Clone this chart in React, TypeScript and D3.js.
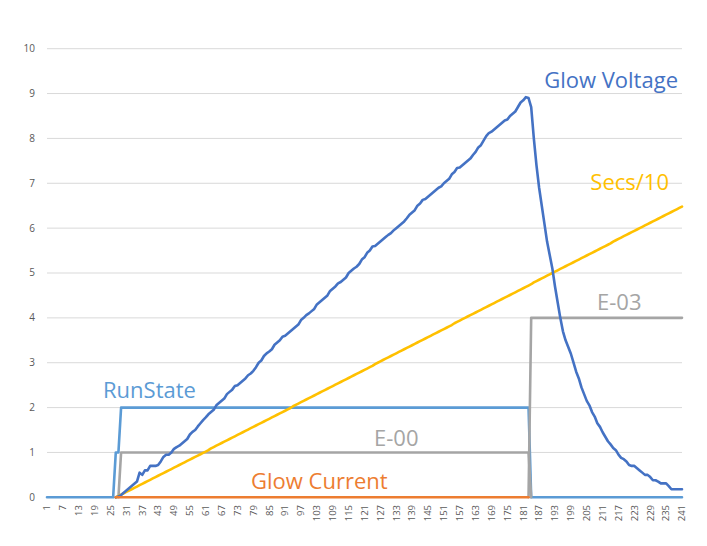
import * as d3 from "d3";

const _ = null;

// sample index 1..241
const categories = d3.range(1, 242);
const yTicks = [0, 1, 2, 3, 4, 5, 6, 7, 8, 9, 10];

const glowVoltage = [
  _, _, _, _, _, _, _, _, _, _,
  _, _, _, _, _, _, _, _, _, _,
  _, _, _, _, _, _, 0, 0.02, 0.05, 0.1,
  0.15, 0.2, 0.25, 0.3, 0.35, 0.55, 0.5, 0.6, 0.6, 0.7,
  0.7, 0.7, 0.72, 0.8, 0.9, 0.95, 0.95, 1.0, 1.08, 1.12,
  1.15, 1.2, 1.25, 1.3, 1.4, 1.46, 1.5, 1.58, 1.65, 1.72,
  1.78, 1.85, 1.9, 1.95, 2.05, 2.1, 2.15, 2.2, 2.3, 2.35,
  2.4, 2.48, 2.5, 2.55, 2.6, 2.65, 2.72, 2.76, 2.82, 2.9,
  3.0, 3.05, 3.15, 3.21, 3.25, 3.3, 3.4, 3.45, 3.5, 3.58,
  3.6, 3.65, 3.7, 3.75, 3.8, 3.85, 3.95, 4.0, 4.06, 4.1,
  4.15, 4.2, 4.3, 4.35, 4.4, 4.45, 4.5, 4.6, 4.65, 4.7,
  4.77, 4.8, 4.85, 4.9, 5.0, 5.05, 5.1, 5.14, 5.2, 5.3,
  5.35, 5.45, 5.5, 5.59, 5.6, 5.65, 5.7, 5.75, 5.8, 5.85,
  5.89, 5.95, 6.0, 6.05, 6.1, 6.15, 6.22, 6.3, 6.35, 6.4,
  6.5, 6.55, 6.63, 6.65, 6.7, 6.75, 6.8, 6.85, 6.9, 6.93,
  7.0, 7.05, 7.1, 7.2, 7.25, 7.34, 7.35, 7.4, 7.45, 7.5,
  7.55, 7.63, 7.7, 7.8, 7.85, 7.95, 8.05, 8.12, 8.15, 8.2,
  8.25, 8.3, 8.35, 8.4, 8.42, 8.5, 8.55, 8.6, 8.7, 8.8,
  8.85, 8.92, 8.9, 8.7, 8.0, 7.4, 6.9, 6.5, 6.1, 5.7,
  5.4, 5.1, 4.7, 4.35, 4.0, 3.7, 3.5, 3.35, 3.2, 3.0,
  2.8, 2.65, 2.45, 2.3, 2.15, 2.05, 1.9, 1.8, 1.65, 1.57,
  1.45, 1.35, 1.25, 1.18, 1.1, 1.05, 0.95, 0.88, 0.85, 0.8,
  0.72, 0.7, 0.7, 0.65, 0.6, 0.55, 0.5, 0.5, 0.45, 0.38,
  0.38, 0.35, 0.31, 0.31, 0.31, 0.25, 0.18, 0.18, 0.18, 0.18,
  0.18,
];

const glowCurrent = [
  _, _, _, _, _, _, _, _, _, _,
  _, _, _, _, _, _, _, _, _, _,
  _, _, _, _, _, _, 0, 0, 0, 0,
  0, 0, 0, 0, 0, 0, 0, 0, 0, 0,
  0, 0, 0, 0, 0, 0, 0, 0, 0, 0,
  0, 0, 0, 0, 0, 0, 0, 0, 0, 0,
  0, 0, 0, 0, 0, 0, 0, 0, 0, 0,
  0, 0, 0, 0, 0, 0, 0, 0, 0, 0,
  0, 0, 0, 0, 0, 0, 0, 0, 0, 0,
  0, 0, 0, 0, 0, 0, 0, 0, 0, 0,
  0, 0, 0, 0, 0, 0, 0, 0, 0, 0,
  0, 0, 0, 0, 0, 0, 0, 0, 0, 0,
  0, 0, 0, 0, 0, 0, 0, 0, 0, 0,
  0, 0, 0, 0, 0, 0, 0, 0, 0, 0,
  0, 0, 0, 0, 0, 0, 0, 0, 0, 0,
  0, 0, 0, 0, 0, 0, 0, 0, 0, 0,
  0, 0, 0, 0, 0, 0, 0, 0, 0, 0,
  0, 0, 0, 0, 0, 0, 0, 0, 0, 0,
  0, 0, 0, _, _, _, _, _, _, _,
  _, _, _, _, _, _, _, _, _, _,
  _, _, _, _, _, _, _, _, _, _,
  _, _, _, _, _, _, _, _, _, _,
  _, _, _, _, _, _, _, _, _, _,
  _, _, _, _, _, _, _, _, _, _,
  _,
];

const runState = [
  0, 0, 0, 0, 0, 0, 0, 0, 0, 0,
  0, 0, 0, 0, 0, 0, 0, 0, 0, 0,
  0, 0, 0, 0, 0, 0, 1, 1, 2, 2,
  2, 2, 2, 2, 2, 2, 2, 2, 2, 2,
  2, 2, 2, 2, 2, 2, 2, 2, 2, 2,
  2, 2, 2, 2, 2, 2, 2, 2, 2, 2,
  2, 2, 2, 2, 2, 2, 2, 2, 2, 2,
  2, 2, 2, 2, 2, 2, 2, 2, 2, 2,
  2, 2, 2, 2, 2, 2, 2, 2, 2, 2,
  2, 2, 2, 2, 2, 2, 2, 2, 2, 2,
  2, 2, 2, 2, 2, 2, 2, 2, 2, 2,
  2, 2, 2, 2, 2, 2, 2, 2, 2, 2,
  2, 2, 2, 2, 2, 2, 2, 2, 2, 2,
  2, 2, 2, 2, 2, 2, 2, 2, 2, 2,
  2, 2, 2, 2, 2, 2, 2, 2, 2, 2,
  2, 2, 2, 2, 2, 2, 2, 2, 2, 2,
  2, 2, 2, 2, 2, 2, 2, 2, 2, 2,
  2, 2, 2, 2, 2, 2, 2, 2, 2, 2,
  2, 2, 2, 0, 0, 0, 0, 0, 0, 0,
  0, 0, 0, 0, 0, 0, 0, 0, 0, 0,
  0, 0, 0, 0, 0, 0, 0, 0, 0, 0,
  0, 0, 0, 0, 0, 0, 0, 0, 0, 0,
  0, 0, 0, 0, 0, 0, 0, 0, 0, 0,
  0, 0, 0, 0, 0, 0, 0, 0, 0, 0,
  0,
];

const secsTenths = [
  _, _, _, _, _, _, _, _, _, _,
  _, _, _, _, _, _, _, _, _, _,
  _, _, _, _, _, _, 0, 0.03, 0.06, 0.09,
  0.12, 0.15, 0.18, 0.21, 0.24, 0.27, 0.3, 0.33, 0.36, 0.39,
  0.42, 0.45, 0.48, 0.51, 0.54, 0.57, 0.6, 0.63, 0.66, 0.69,
  0.72, 0.75, 0.78, 0.81, 0.84, 0.87, 0.9, 0.93, 0.96, 0.99,
  1.02, 1.05, 1.09, 1.12, 1.15, 1.18, 1.21, 1.24, 1.27, 1.3,
  1.33, 1.36, 1.39, 1.42, 1.45, 1.48, 1.51, 1.54, 1.57, 1.6,
  1.63, 1.66, 1.69, 1.72, 1.75, 1.78, 1.81, 1.84, 1.87, 1.9,
  1.93, 1.96, 1.99, 2.03, 2.06, 2.09, 2.12, 2.15, 2.18, 2.21,
  2.24, 2.27, 2.3, 2.33, 2.36, 2.39, 2.42, 2.45, 2.48, 2.51,
  2.54, 2.57, 2.6, 2.63, 2.66, 2.69, 2.72, 2.75, 2.78, 2.81,
  2.84, 2.87, 2.9, 2.93, 2.97, 3.0, 3.03, 3.06, 3.09, 3.12,
  3.15, 3.18, 3.21, 3.24, 3.27, 3.3, 3.33, 3.36, 3.39, 3.42,
  3.45, 3.48, 3.51, 3.54, 3.57, 3.6, 3.63, 3.66, 3.69, 3.72,
  3.75, 3.78, 3.81, 3.84, 3.88, 3.91, 3.94, 3.97, 4.0, 4.03,
  4.06, 4.09, 4.12, 4.15, 4.18, 4.21, 4.24, 4.27, 4.3, 4.33,
  4.36, 4.39, 4.42, 4.45, 4.48, 4.51, 4.54, 4.57, 4.6, 4.63,
  4.66, 4.69, 4.72, 4.75, 4.79, 4.82, 4.85, 4.88, 4.91, 4.94,
  4.97, 5.0, 5.03, 5.06, 5.09, 5.12, 5.15, 5.18, 5.21, 5.24,
  5.27, 5.3, 5.33, 5.36, 5.39, 5.42, 5.45, 5.48, 5.51, 5.54,
  5.57, 5.6, 5.63, 5.66, 5.7, 5.73, 5.76, 5.79, 5.82, 5.85,
  5.88, 5.91, 5.94, 5.97, 6.0, 6.03, 6.06, 6.09, 6.12, 6.15,
  6.18, 6.21, 6.24, 6.27, 6.3, 6.33, 6.36, 6.39, 6.42, 6.45,
  6.48,
];

const e00 = [
  _, _, _, _, _, _, _, _, _, _,
  _, _, _, _, _, _, _, _, _, _,
  _, _, _, _, _, _, _, 0, 1, 1,
  1, 1, 1, 1, 1, 1, 1, 1, 1, 1,
  1, 1, 1, 1, 1, 1, 1, 1, 1, 1,
  1, 1, 1, 1, 1, 1, 1, 1, 1, 1,
  1, 1, 1, 1, 1, 1, 1, 1, 1, 1,
  1, 1, 1, 1, 1, 1, 1, 1, 1, 1,
  1, 1, 1, 1, 1, 1, 1, 1, 1, 1,
  1, 1, 1, 1, 1, 1, 1, 1, 1, 1,
  1, 1, 1, 1, 1, 1, 1, 1, 1, 1,
  1, 1, 1, 1, 1, 1, 1, 1, 1, 1,
  1, 1, 1, 1, 1, 1, 1, 1, 1, 1,
  1, 1, 1, 1, 1, 1, 1, 1, 1, 1,
  1, 1, 1, 1, 1, 1, 1, 1, 1, 1,
  1, 1, 1, 1, 1, 1, 1, 1, 1, 1,
  1, 1, 1, 1, 1, 1, 1, 1, 1, 1,
  1, 1, 1, 1, 1, 1, 1, 1, 1, 1,
  1, 1, 1, 0, _, _, _, _, _, _,
  _, _, _, _, _, _, _, _, _, _,
  _, _, _, _, _, _, _, _, _, _,
  _, _, _, _, _, _, _, _, _, _,
  _, _, _, _, _, _, _, _, _, _,
  _, _, _, _, _, _, _, _, _, _,
  _,
];

const e03 = [
  _, _, _, _, _, _, _, _, _, _,
  _, _, _, _, _, _, _, _, _, _,
  _, _, _, _, _, _, _, _, _, _,
  _, _, _, _, _, _, _, _, _, _,
  _, _, _, _, _, _, _, _, _, _,
  _, _, _, _, _, _, _, _, _, _,
  _, _, _, _, _, _, _, _, _, _,
  _, _, _, _, _, _, _, _, _, _,
  _, _, _, _, _, _, _, _, _, _,
  _, _, _, _, _, _, _, _, _, _,
  _, _, _, _, _, _, _, _, _, _,
  _, _, _, _, _, _, _, _, _, _,
  _, _, _, _, _, _, _, _, _, _,
  _, _, _, _, _, _, _, _, _, _,
  _, _, _, _, _, _, _, _, _, _,
  _, _, _, _, _, _, _, _, _, _,
  _, _, _, _, _, _, _, _, _, _,
  _, _, _, _, _, _, _, _, _, _,
  _, _, 0, 4, 4, 4, 4, 4, 4, 4,
  4, 4, 4, 4, 4, 4, 4, 4, 4, 4,
  4, 4, 4, 4, 4, 4, 4, 4, 4, 4,
  4, 4, 4, 4, 4, 4, 4, 4, 4, 4,
  4, 4, 4, 4, 4, 4, 4, 4, 4, 4,
  4, 4, 4, 4, 4, 4, 4, 4, 4, 4,
  4,
];

const W = 707;
const H = 546;
const FONT = "'Open Sans', 'Noto Sans', sans-serif";

// drawn bottom to top
const series = [
  { name: "RunState", values: runState, color: "#5B9BD5" },
  { name: "E-00", values: e00, color: "#A5A5A5" },
  { name: "E-03", values: e03, color: "#A5A5A5" },
  { name: "Secs/10", values: secsTenths, color: "#FFC000" },
  { name: "Glow Voltage", values: glowVoltage, color: "#4472C4" },
  { name: "Glow Current", values: glowCurrent, color: "#ED7D31" },
];

// labels placed next to their lines
const labels = [
  { text: "Glow Voltage", x: 678, y: 88, anchor: "end", color: "#4472C4" },
  { text: "Secs/10", x: 669, y: 190, anchor: "end", color: "#FFC000" },
  { text: "E-03", x: 597, y: 310, anchor: "start", color: "#A5A5A5" },
  { text: "RunState", x: 103, y: 398, anchor: "start", color: "#5B9BD5" },
  { text: "E-00", x: 374, y: 446, anchor: "start", color: "#A5A5A5" },
  { text: "Glow Current", x: 251, y: 489, anchor: "start", color: "#ED7D31" },
];

export default function App() {
  const x = d3.scalePoint<number>().domain(categories).range([47, 682]);
  const y = d3.scaleLinear().domain([0, 10]).range([497.3, 48.7]);
  const xTicks = categories.filter((c, i) => i % 6 === 0);

  const line = (vals: (number | null)[]) =>
    d3
      .line<number | null>()
      .defined((d) => d !== null)
      .x((d, i) => x(categories[i]) as number)
      .y((d) => y(d as number))(vals) as string;

  return (
    <svg
      width={W}
      height={H}
      style={{ position: "absolute", left: 0, top: 0, background: "#fff" }}
      fontFamily={FONT}
    >
      {/* gridlines */}
      {yTicks.map((t) => (
        <line key={t} x1={47} x2={682} y1={y(t)} y2={y(t)} stroke="#D9D9D9" strokeWidth={1} />
      ))}
      {yTicks.map((t) => (
        <text key={"yl" + t} x={35} y={y(t)} dy="0.34em" textAnchor="end" fontSize={10} fill="#595959">
          {t}
        </text>
      ))}
      {xTicks.map((c) => (
        <text
          key={"xl" + c}
          transform={`translate(${(x(c) as number) + 3.3},505) rotate(-90)`}
          textAnchor="end"
          fontSize={9.5}
          fill="#595959"
        >
          {c}
        </text>
      ))}

      {series.map((s) => (
        <path
          key={s.name}
          d={line(s.values)}
          fill="none"
          stroke={s.color}
          strokeWidth={2.6}
          strokeLinejoin="round"
          strokeLinecap="round"
        />
      ))}

      {labels.map((l) => (
        <text key={l.text} x={l.x} y={l.y} textAnchor={l.anchor} fontSize={22} fill={l.color}>
          {l.text}
        </text>
      ))}
    </svg>
  );
}
